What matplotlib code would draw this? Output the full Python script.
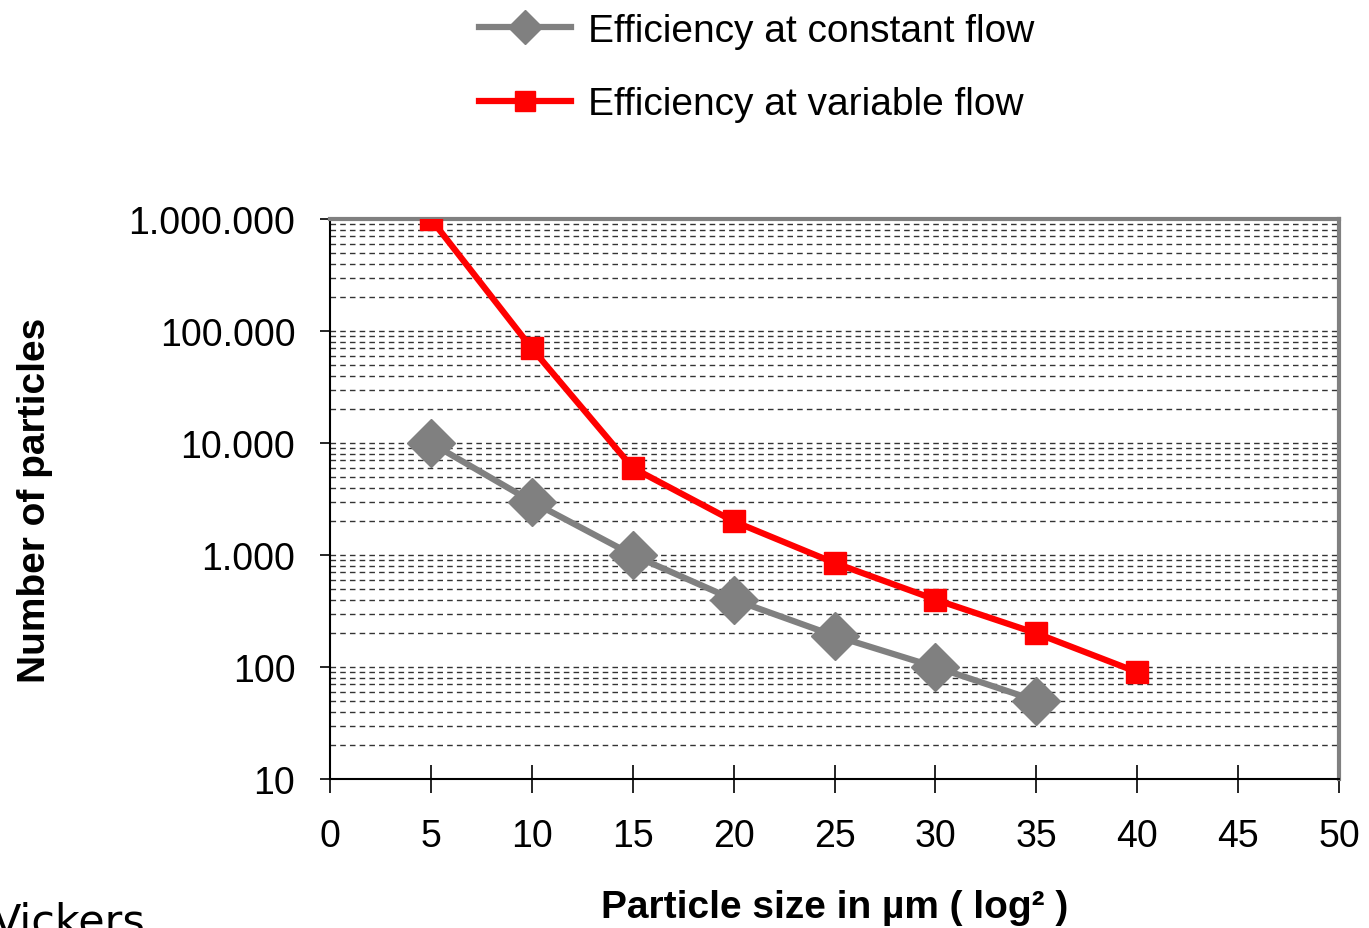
import matplotlib
matplotlib.use("Agg")
import matplotlib.pyplot as plt
from matplotlib.ticker import FixedLocator, LogLocator, FuncFormatter, NullFormatter

x_const = [5, 10, 15, 20, 25, 30, 35]
y_const = [10000, 3000, 1000, 400, 190, 100, 50]
x_var = [5, 10, 15, 20, 25, 30, 35, 40]
y_var = [1000000, 70000, 6000, 2000, 850, 400, 200, 90]
x_ticks = list(range(0, 55, 5))
y_ticks = [10, 100, 1000, 10000, 100000, 1000000]
y_labels = ["10", "100", "1.000", "10.000", "100.000", "1.000.000"]

plt.rcParams['font.family'] = ['Liberation Sans', 'DejaVu Sans']

fig = plt.figure(figsize=(13.69, 9.29), dpi=100)
ax = fig.add_axes([330/1369, 1-780/929, (1339-330)/1369, (780-220)/929])

ax.plot(x_const, y_const, color='#808080', lw=4.5, marker='D', ms=24,
        label='Efficiency at constant flow', zorder=3)
ax.plot(x_var, y_var, color='#FF0000', lw=4.5, marker='s', ms=16,
        label='Efficiency at variable flow', zorder=4)

ax.set_yscale('log')
ax.set_ylim(10, 1000000)
ax.set_xlim(0, 50)
ax.xaxis.set_major_locator(FixedLocator(x_ticks))
ax.yaxis.set_major_locator(FixedLocator(y_ticks))
ax.yaxis.set_major_formatter(FuncFormatter(lambda v, p: y_labels[y_ticks.index(int(round(v)))] if int(round(v)) in y_ticks else ""))
ax.yaxis.set_minor_locator(LogLocator(base=10, subs=range(2, 10), numticks=20))
ax.yaxis.set_minor_formatter(NullFormatter())

ax.grid(True, which='both', axis='y', linestyle=(0, (4, 3)), color='#333333', lw=1.0)
ax.tick_params(axis='y', which='minor', length=0)
ax.tick_params(axis='y', which='major', direction='out', length=7, width=1.2, labelsize=27, pad=18)
ax.tick_params(axis='x', which='major', direction='inout', length=20, width=1.2, labelsize=27, pad=18)

for s in ['top', 'right']:
    ax.spines[s].set_color('#808080')
    ax.spines[s].set_linewidth(3)
for s in ['left', 'bottom']:
    ax.spines[s].set_color('black')
    ax.spines[s].set_linewidth(1.5)

ax.set_ylabel('Number of particles', fontsize=28, fontweight='bold', labelpad=54)
ax.set_xlabel('Particle size in µm ( log² )', fontsize=28, fontweight='bold', labelpad=25)

leg = fig.legend(loc='upper center', bbox_to_anchor=(0.553, 1.023), frameon=False, fontsize=28,
                 handlelength=2.35, labelspacing=0.97, handletextpad=0.45)
leg.legend_handles[0].set_markersize(17)
leg.legend_handles[1].set_markersize(14)

fig.text(-0.006, -0.016, 'Vickers', fontsize=31, family='DejaVu Sans', ha='left', va='bottom')

fig.savefig('out.png', dpi=100)
